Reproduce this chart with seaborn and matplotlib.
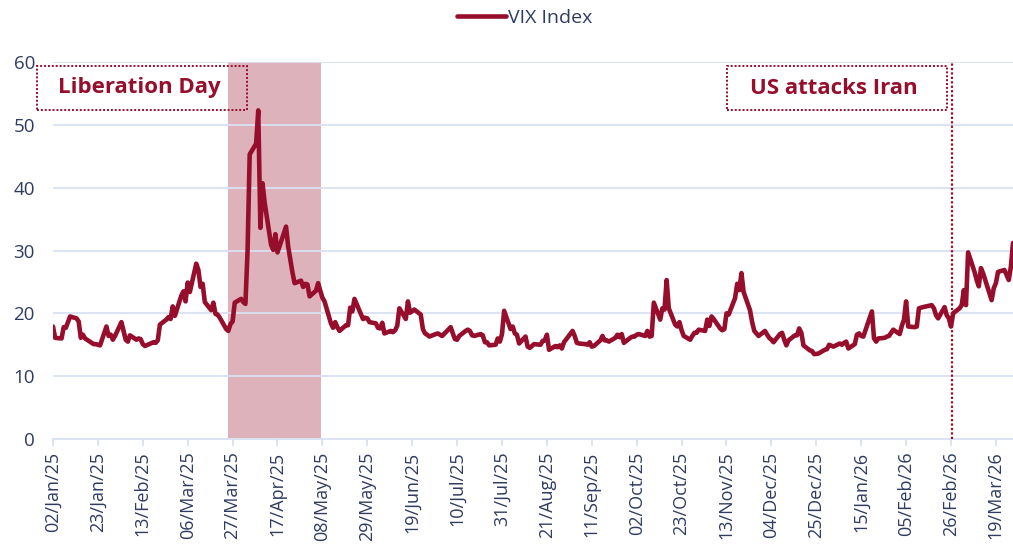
import matplotlib
matplotlib.use("Agg")
import matplotlib.pyplot as plt
import matplotlib.dates as mdates
from matplotlib.patches import Rectangle
import seaborn as sns
import pandas as pd

# VIX closes, one list per month (US trading days)
jan25 = [17.9, 16.1, 16.0, 17.8, 17.7, 19.5, 19.2, 18.7, 16.1, 16.6, 16.0, 15.1, 15.1, 15.0, 14.9, 17.9, 16.4, 16.6, 15.8, 16.4]
feb25 = [18.6, 17.2, 15.8, 15.5, 16.5, 15.8, 16.0, 15.9, 15.1, 14.8, 15.4, 15.3, 15.7, 18.2, 19.0, 19.4, 19.1, 21.1, 19.6]
mar25 = [22.8, 23.5, 21.9, 24.9, 23.4, 27.9, 26.9, 24.2, 24.7, 21.8, 20.5, 21.7, 19.9, 19.8, 19.3, 17.5, 17.2, 18.3, 18.7, 21.7, 22.3]
apr25 = [21.8, 21.5, 30.0, 45.3, 47.0, 52.3, 33.6, 40.7, 37.6, 30.9, 30.1, 32.6, 29.7, 33.8, 30.6, 28.5, 26.5, 24.8, 25.2, 24.2, 24.7]
may25 = [24.6, 22.7, 23.6, 24.8, 23.6, 22.5, 21.9, 18.4, 17.7, 18.6, 17.8, 17.2, 18.1, 18.1, 20.9, 20.3, 22.3, 19.1, 19.3, 19.2, 18.6]
jun25 = [18.4, 17.7, 17.6, 18.5, 16.8, 17.2, 17.0, 17.3, 18.0, 20.8, 19.1, 21.9, 20.1, 20.6, 19.8, 17.5, 16.8, 16.6, 16.3, 16.7]
jul25 = [16.8, 16.6, 16.4, 17.8, 16.8, 15.9, 15.8, 16.4, 17.2, 17.4, 17.2, 16.5, 16.4, 16.7, 16.5, 15.4, 15.4, 14.9, 15.0, 16.0, 15.5, 16.7]
aug25 = [20.4, 17.5, 17.9, 16.8, 16.6, 15.2, 16.3, 14.7, 14.5, 14.8, 15.1, 15.0, 15.6, 15.7, 16.6, 14.2, 14.8, 14.6, 14.9, 14.4, 15.4]
sep25 = [17.2, 16.4, 15.3, 15.2, 15.1, 15.0, 15.4, 14.7, 14.8, 15.7, 16.4, 15.7, 15.7, 15.5, 16.1, 16.6, 16.2, 16.7, 15.3, 16.1, 16.3]
oct25 = [16.3, 16.6, 16.7, 16.4, 17.2, 16.3, 16.4, 21.7, 19.0, 20.8, 20.6, 25.3, 20.8, 18.2, 17.9, 18.6, 17.3, 16.4, 15.8, 16.4, 16.9, 16.9, 17.4]
nov25 = [17.2, 19.0, 18.0, 19.5, 19.1, 17.6, 17.3, 17.5, 20.0, 19.8, 22.4, 24.7, 23.7, 26.4, 23.4, 20.5, 18.6, 17.2, 16.4]
dec25 = [17.2, 16.6, 16.1, 15.8, 15.4, 16.7, 16.9, 15.8, 14.9, 15.7, 16.5, 16.5, 17.6, 16.9, 14.9, 14.1, 14.0, 13.5, 13.6, 14.2, 14.3, 15.0]
jan26 = [14.7, 15.2, 15.0, 15.3, 15.5, 14.4, 15.1, 16.6, 16.8, 16.4, 16.3, 20.3, 16.0, 15.5, 16.0, 16.1, 16.3, 16.4, 16.9, 17.4]
feb26 = [16.7, 18.0, 19.0, 21.9, 17.9, 17.8, 17.9, 20.8, 20.9, 21.0, 21.3, 20.8, 19.7, 19.2, 21.0, 19.7, 19.2, 17.9, 20.0]
mar26 = [20.8, 21.3, 23.7, 21.3, 29.7, 26.6, 25.3, 24.3, 27.2, 26.4, 23.2, 22.1, 24.0, 24.8, 26.6, 26.9, 26.1, 25.3, 27.4, 31.2]

market_holidays = ["2025-01-01", "2025-01-09", "2025-01-20", "2025-02-17", "2025-04-18",
                   "2025-05-26", "2025-06-19", "2025-07-04", "2025-09-01", "2025-11-27",
                   "2025-12-25", "2026-01-01", "2026-01-19", "2026-02-16"]

shade_start, shade_end = "2025-03-25", "2025-05-07 12:00"
iran_date = "2026-02-26 12:00"

values = (jan25 + feb25 + mar25 + apr25 + may25 + jun25 + jul25 + aug25 + sep25
          + oct25 + nov25 + dec25 + jan26 + feb26 + mar26)
dates = pd.bdate_range("2025-01-02", "2026-03-27", freq="C", holidays=market_holidays)
df = pd.DataFrame({"date": dates, "VIX Index": values})

red = "#960E2B"
navy = "#2F3B60"
grid_c = "#D9E1F2"

sns.set_theme(style="white")
plt.rcParams["font.family"] = ["Open Sans", "DejaVu Sans"]

fig = plt.figure(figsize=(10.13, 5.54), dpi=100)
ax = fig.add_axes([53 / 1013, 1 - 439 / 554, 1 - 53 / 1013, (439 - 62) / 554])

ax.axvspan(pd.Timestamp(shade_start), pd.Timestamp(shade_end), color="#DDB2BA", lw=0, zorder=0.3)
sns.lineplot(data=df, x="date", y="VIX Index", color=red, lw=3.3, label="VIX Index", ax=ax, zorder=3)
ax.axvline(pd.Timestamp(iran_date), color=red, lw=1.6, ls=(0, (1, 1)), zorder=2)

ax.set_ylim(0, 60)
ax.set_xlim(df["date"].iloc[0], df["date"].iloc[-1])
ax.set_yticks(range(0, 61, 10))
ticks = pd.date_range("2025-01-02", periods=22, freq="21D")
ax.set_xticks(ticks)
ax.xaxis.set_major_formatter(mdates.DateFormatter("%d/%b/%y"))
ax.set_xlabel("")
ax.set_ylabel("")

ax.set_axisbelow(True)
ax.yaxis.grid(True, color=grid_c, lw=1.3)
ax.xaxis.grid(False)
for s in ["top", "right", "left"]:
    ax.spines[s].set_visible(False)
ax.spines["bottom"].set_color(grid_c)
ax.spines["bottom"].set_linewidth(1.3)
ax.spines["bottom"].set_zorder(0.5)

ax.tick_params(axis="y", length=0, pad=13, labelsize=13.5, labelcolor=navy)
ax.tick_params(axis="x", length=5, width=1.3, color=grid_c, pad=4, labelsize=13,
               labelcolor=navy, labelrotation=90, bottom=True)

# event boxes
for x0, x1, label in [(37, 247, "Liberation Day"), (727, 947, "US attacks Iran")]:
    fx0, fx1 = x0 / 1013, x1 / 1013
    fy0, fy1 = 1 - 110 / 554, 1 - 66 / 554
    fig.add_artist(Rectangle((fx0, fy0), fx1 - fx0, fy1 - fy0, transform=fig.transFigure,
                             fill=False, edgecolor=red, lw=1.4, ls=(0, (1, 1)), zorder=4))
    fig.text((fx0 + fx1) / 2 - 0.003, (fy0 + fy1) / 2, label, color=red, fontsize=16,
             fontweight="bold", ha="center", va="center")

ax.legend(loc="center", bbox_to_anchor=(0.518, 0.967), bbox_transform=fig.transFigure,
          frameon=False, handlelength=2.5, handletextpad=0.12, fontsize=14, labelcolor=navy)
for h in ax.get_legend().get_lines():
    h.set_linewidth(3.3)

fig.savefig("out.png", dpi=100)
